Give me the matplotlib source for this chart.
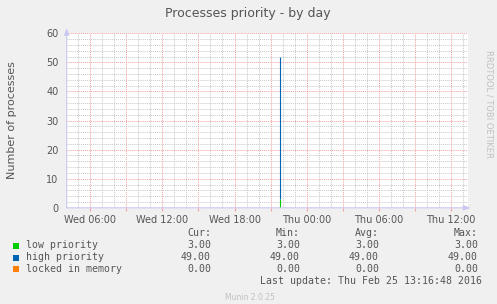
import matplotlib
matplotlib.use("Agg")
import numpy as np
import matplotlib.pyplot as plt
import matplotlib.dates as mdates
from matplotlib.ticker import MultipleLocator, FuncFormatter
from datetime import datetime

W, H = 497, 304

start = datetime(2016, 2, 24, 4, 2)
end = datetime(2016, 2, 25, 13, 26)

# one sample only
times = [datetime(2016, 2, 24, 21, 46)]
low_priority = [3.0]
high_priority = [49.0]
locked = [0.0]

series = ["low priority", "high priority", "locked in memory"]
colors = ["#00cc00", "#0066b3", "#ff8000"]
cur = ["3.00", "49.00", "0.00"]
mins = ["3.00", "49.00", "0.00"]
avgs = ["3.00", "49.00", "0.00"]
maxs = ["3.00", "49.00", "0.00"]

bg = "#f0f0f0"
txt = "#555555"
mono = "DejaVu Sans Mono"

fig = plt.figure(figsize=(W / 100, H / 100), dpi=100, facecolor=bg)


def px(x, y):
    return x / W, 1 - y / H


left, top, right, bottom = 66.7, 33.3, 468, 207.8
ax = fig.add_axes([left / W, 1 - bottom / H, (right - left) / W, (bottom - top) / H])
ax.set_facecolor("white")
ax.set_xlim(start, end)
ax.set_ylim(0, 60)
for s in ax.spines.values():
    s.set_visible(False)

dots = (0, (1, 1))
ax.xaxis.set_major_locator(mdates.HourLocator(byhour=range(0, 24, 3)))
ax.xaxis.set_minor_locator(mdates.HourLocator())


def fmt(v, pos):
    d = mdates.num2date(v)
    if d.hour % 6 == 0:
        return d.strftime("%a %H:%M")
    return ""


ax.xaxis.set_major_formatter(FuncFormatter(fmt))
ax.yaxis.set_major_locator(MultipleLocator(10))
ax.yaxis.set_minor_locator(MultipleLocator(2))
ax.grid(which="minor", color="#c8c8c8", linestyle=dots, linewidth=0.7)
ax.grid(which="major", color="#f4a0a0", linestyle=dots, linewidth=0.7)
ax.set_axisbelow(True)
ax.tick_params(which="both", length=0, labelsize=7, labelcolor=txt)
ax.tick_params(axis="x", which="major", length=2, color="#f4a0a0", pad=3)
ax.tick_params(axis="y", pad=6)

low = np.array(low_priority)
high = np.array(high_priority)
ax.vlines(times, 0, low, color=colors[0], linewidth=0.8)
ax.vlines(times, low, low + high, color=colors[1], linewidth=0.8)

# rrdtool-style axes with arrows
axc = "#c8c8f0"
ax.annotate("", xy=(1.006, 0), xytext=(0, 0), xycoords="axes fraction",
            arrowprops=dict(arrowstyle="-|>,head_width=0.15,head_length=0.4",
                            color=axc, lw=0.8, shrinkA=0, shrinkB=0),
            annotation_clip=False)
ax.annotate("", xy=(0, 1.03), xytext=(0, 0), xycoords="axes fraction",
            arrowprops=dict(arrowstyle="-|>,head_width=0.15,head_length=0.4",
                            color=axc, lw=0.8, shrinkA=0, shrinkB=0),
            annotation_clip=False)

fig.text(*px(248, 13), "Processes priority - by day", ha="center", va="center",
         fontsize=9, color=txt)
fig.text(*px(12, 120), "Number of processes", rotation=90, ha="center",
         va="center", fontsize=8, color=txt)
fig.text(*px(489, 104), "RRDTOOL / TOBI OETIKER", rotation=-90, ha="center",
         va="center", fontsize=6, color="#c0c0c0")

fs = 7.1
fig.text(*px(211, 233), "Cur:", ha="right", va="center", fontsize=fs,
         family=mono, color=txt)
fig.text(*px(300, 233), "Min:", ha="right", va="center", fontsize=fs,
         family=mono, color=txt)
fig.text(*px(379, 233), "Avg:", ha="right", va="center", fontsize=fs,
         family=mono, color=txt)
fig.text(*px(478, 233), "Max:", ha="right", va="center", fontsize=fs,
         family=mono, color=txt)
rows = [245.5, 257.5, 269.3]
for i, y in enumerate(rows):
    fig.patches.append(plt.Rectangle(px(13, y + 3), 6 / W, 6 / H,
                                     transform=fig.transFigure,
                                     facecolor=colors[i], edgecolor="none"))
    fig.text(*px(26, y), series[i], ha="left", va="center", fontsize=fs,
             family=mono, color=txt)
    fig.text(*px(211, y), cur[i], ha="right", va="center", fontsize=fs,
             family=mono, color=txt)
    fig.text(*px(300, y), mins[i], ha="right", va="center", fontsize=fs,
             family=mono, color=txt)
    fig.text(*px(379, y), avgs[i], ha="right", va="center", fontsize=fs,
             family=mono, color=txt)
    fig.text(*px(478, y), maxs[i], ha="right", va="center", fontsize=fs,
             family=mono, color=txt)
fig.text(*px(482, 281), "Last update: Thu Feb 25 13:16:48 2016", ha="right",
         va="center", fontsize=fs, family=mono, color=txt)
fig.text(*px(250, 297), "Munin 2.0.25", ha="center", va="center",
         fontsize=5.5, color="#c0c0c0")

fig.savefig("out.png", dpi=100, facecolor=bg)
